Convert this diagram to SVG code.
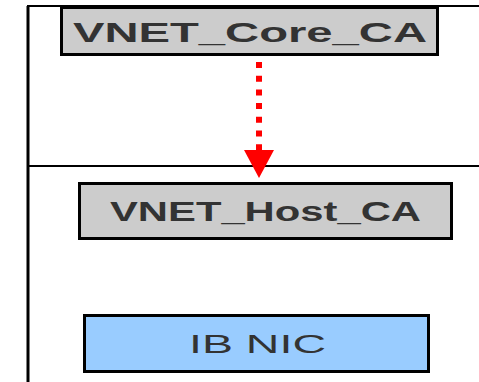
<svg xmlns="http://www.w3.org/2000/svg" width="479" height="382" viewBox="0 0 479 382">
<style>
.frame{stroke:#000;fill:none}
.box{stroke:#000;stroke-width:3}
.gray{fill:#cccccc}
.blue{fill:#99ccff}
.lbl{font-family:"Liberation Sans",Arial,sans-serif;font-size:27px;fill:#333333}
.b{font-weight:bold}
</style>
<rect width="479" height="382" fill="#ffffff"/>
<g id="frame">
<line class="frame" x1="28" y1="6" x2="28" y2="382" stroke-width="3"/>
<line class="frame" x1="27" y1="6" x2="479" y2="6" stroke-width="2"/>
<line class="frame" x1="28" y1="166" x2="479" y2="166" stroke-width="2"/>
</g>
<g id="core">
<rect class="box gray" x="61.5" y="7.5" width="376" height="47"/>
<text class="lbl b" x="73" y="41.5" textLength="354" lengthAdjust="spacingAndGlyphs">VNET_Core_CA</text>
</g>
<g id="host">
<rect class="box gray" x="79.5" y="183.5" width="372" height="55"/>
<text class="lbl b" x="110" y="221" textLength="311" lengthAdjust="spacingAndGlyphs">VNET_Host_CA</text>
</g>
<g id="nic">
<rect class="box blue" x="84.5" y="315.5" width="344" height="56"/>
<text class="lbl" x="189" y="353" textLength="137" lengthAdjust="spacingAndGlyphs" style="font-size:26px">IB NIC</text>
</g>
<g id="connectors">
<line x1="259" y1="62" x2="259" y2="150" stroke="#ff0000" stroke-width="6" stroke-dasharray="6 7.7"/>
<polygon points="244,150 274,150 259,178" fill="#ff0000"/>
</g>
</svg>
